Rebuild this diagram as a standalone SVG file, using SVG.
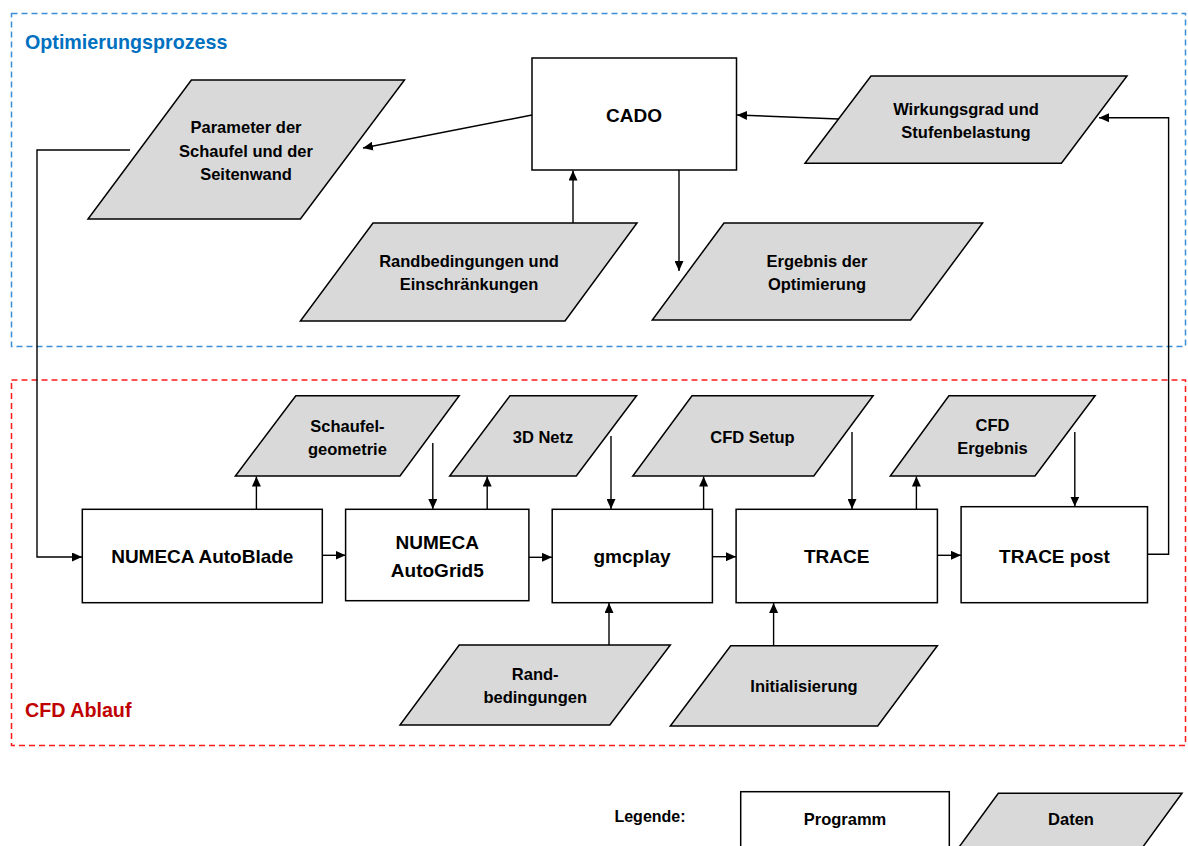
<svg xmlns="http://www.w3.org/2000/svg" width="1188" height="846" viewBox="0 0 1188 846">
<defs>
<marker id="ah" markerUnits="userSpaceOnUse" markerWidth="11" markerHeight="9" refX="10" refY="4.5" orient="auto">
<path d="M0,0 L10,4.5 L0,9 z" fill="#000"/>
</marker>
<style>
.prog{fill:#fff;stroke:#000;stroke-width:1.5}
.data{fill:#d9d9d9;stroke:#000;stroke-width:1.5}
.t{font-family:"Liberation Sans",Arial,sans-serif;font-weight:bold;fill:#000;text-anchor:middle}
.pt{font-size:19px}
.dt{font-size:16.5px}
.con{fill:none;stroke:#000;stroke-width:1.4;marker-end:url(#ah)}
.title{font-family:"Liberation Sans",Arial,sans-serif;font-weight:bold;font-size:19.7px}
</style>
</defs>
<rect width="1188" height="846" fill="#fff"/>

<g id="group-opt">
<rect x="11.5" y="13.5" width="1174" height="333" fill="none" stroke="#3a8fd8" stroke-width="1.5" stroke-dasharray="6,4"/>
<text class="title" x="25" y="49" fill="#0070c0">Optimierungsprozess</text>
</g>
<g id="group-cfd">
<rect x="11.5" y="380" width="1174" height="365.5" fill="none" stroke="#ff1a1a" stroke-width="1.5" stroke-dasharray="6,4"/>
<text class="title" x="25" y="717" fill="#c00000">CFD Ablauf</text>
</g>

<g id="cado">
<rect class="prog" x="532" y="58" width="204.5" height="112"/>
<text class="t pt" x="634" y="122">CADO</text>
</g>
<g id="parameter">
<polygon class="data" points="191.4,80 404.5,80 300.4,219 88,219"/>
<text class="t dt" x="246" y="133">Parameter der</text>
<text class="t dt" x="246" y="156.5">Schaufel und der</text>
<text class="t dt" x="246" y="180">Seitenwand</text>
</g>
<g id="wirkungsgrad">
<polygon class="data" points="871,76 1127,76 1061.4,163.3 805,163.3"/>
<text class="t dt" x="966" y="114.5">Wirkungsgrad und</text>
<text class="t dt" x="966" y="138">Stufenbelastung</text>
</g>
<g id="randbedingungen-top">
<polygon class="data" points="373,223 637,223 565,321 300.4,321"/>
<text class="t dt" x="469" y="267">Randbedingungen und</text>
<text class="t dt" x="469" y="290">Einschränkungen</text>
</g>
<g id="ergebnis">
<polygon class="data" points="724,223 982.6,223 910.6,320 652.3,320"/>
<text class="t dt" x="817" y="267">Ergebnis der</text>
<text class="t dt" x="817" y="290">Optimierung</text>
</g>

<g id="autoblade">
<rect class="prog" x="82.3" y="509.3" width="240" height="93.4"/>
<text class="t pt" x="202.3" y="563.3">NUMECA AutoBlade</text>
</g>
<g id="autogrid">
<rect class="prog" x="345.6" y="509.3" width="183.3" height="91.4"/>
<text class="t pt" x="437.3" y="549">NUMECA</text>
<text class="t pt" x="437.3" y="576.7">AutoGrid5</text>
</g>
<g id="gmcplay">
<rect class="prog" x="552.2" y="509.3" width="160.2" height="93.4"/>
<text class="t pt" x="632" y="563">gmcplay</text>
</g>
<g id="trace">
<rect class="prog" x="736.1" y="509.3" width="201.3" height="93.4"/>
<text class="t pt" x="836.7" y="563.3">TRACE</text>
</g>
<g id="tracepost">
<rect class="prog" x="961.1" y="506.7" width="186.4" height="96"/>
<text class="t pt" x="1054.5" y="563.3">TRACE post</text>
</g>

<g id="schaufelgeometrie">
<polygon class="data" points="295.8,395.7 459.2,395.7 400,476 235.4,476"/>
<text class="t dt" x="347.4" y="431.5">Schaufel-</text>
<text class="t dt" x="347.4" y="454.5">geometrie</text>
</g>
<g id="netz">
<polygon class="data" points="510,395.7 636.6,395.7 576.3,476 449.7,476"/>
<text class="t dt" x="543" y="442.7">3D Netz</text>
</g>
<g id="cfdsetup">
<polygon class="data" points="692,395.7 873.1,395.7 813.8,476 632.8,476"/>
<text class="t dt" x="752.5" y="442.7">CFD Setup</text>
</g>
<g id="cfdergebnis">
<polygon class="data" points="948.9,395.7 1095.1,395.7 1035,476 890.3,476"/>
<text class="t dt" x="992.5" y="431">CFD</text>
<text class="t dt" x="992.5" y="454.3">Ergebnis</text>
</g>
<g id="randbedingungen-cfd">
<polygon class="data" points="459.2,645 670.3,645 609.8,725 400,725"/>
<text class="t dt" x="535.2" y="680">Rand-</text>
<text class="t dt" x="535.2" y="703.3">bedingungen</text>
</g>
<g id="initialisierung">
<polygon class="data" points="730.7,645.7 937.4,645.7 877.7,726 670.3,726"/>
<text class="t dt" x="804" y="691.7">Initialisierung</text>
</g>

<g id="legend">
<text class="t" x="650" y="821.5" font-size="16">Legende:</text>
<rect class="prog" x="740.7" y="791.7" width="208.6" height="80"/>
<text class="t" x="845" y="825" font-size="16.5">Programm</text>
<polygon class="data" points="998.3,793.3 1182,793.3 1126,870 942.3,870"/>
<text class="t" x="1071" y="825" font-size="16.5">Daten</text>
</g>

<g id="connectors">
<path class="con" d="M532,115 L363,148"/>
<path class="con" d="M573,223 L573,170.5"/>
<path class="con" d="M679,170 L679,271"/>
<path class="con" d="M839,119 L737,115"/>
<path class="con" d="M130,150 L37,150 L37,557 L82,557"/>
<path class="con" d="M256.4,509 L256.4,476.5"/>
<path class="con" d="M432.8,443 L432.8,509"/>
<path class="con" d="M487.2,509 L487.2,476.5"/>
<path class="con" d="M322.3,555.3 L345.6,555.3"/>
<path class="con" d="M529,557.3 L552,557.3"/>
<path class="con" d="M611,436 L611,509"/>
<path class="con" d="M703.6,509 L703.6,476.5"/>
<path class="con" d="M609,645 L609,603"/>
<path class="con" d="M852,432 L852,509"/>
<path class="con" d="M712.4,556.7 L736,556.7"/>
<path class="con" d="M916.4,509 L916.4,476.5"/>
<path class="con" d="M773.6,645.7 L773.6,603"/>
<path class="con" d="M1074.8,432 L1074.8,506.5"/>
<path class="con" d="M937.4,555.3 L961,555.3"/>
<path class="con" d="M1147.5,554.3 L1168.6,554.3 L1168.6,117.7 L1099,117.7"/>
</g>
</svg>
